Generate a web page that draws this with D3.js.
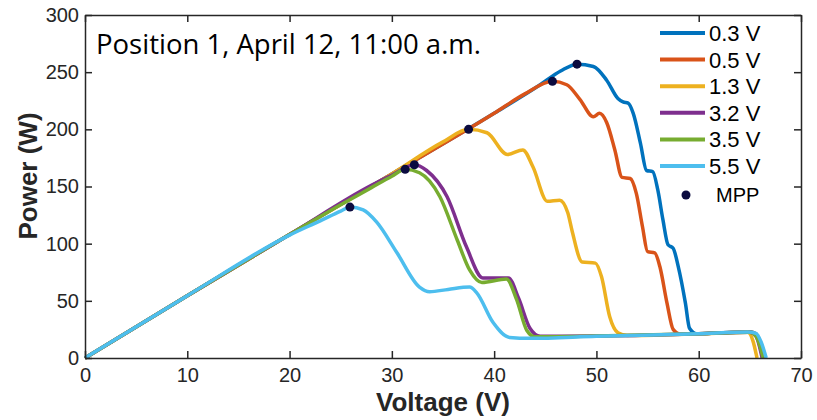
<!DOCTYPE html>
<html>
<head>
<meta charset="utf-8">
<script src="https://cdn.jsdelivr.net/npm/d3@7"></script>
<style>
  body { margin: 0; background: #fff; }
  svg { display: block; }
</style>
</head>
<body>
<svg id="chart"></svg>
<script>
// ---- data
var labels = ['0.3 V', '0.5 V', '1.3 V', '3.2 V', '3.5 V', '5.5 V']
var colors = ['#0072BD', '#D95319', '#EDB120', '#7E2F8E', '#77AC30', '#4DBEEE']

var v03 = [0, 10, 20, 30, 40, 44.5, 46.5, 48.1, 49.7, 51, 52.1, 52.6, 53.1, 53.6, 54.3, 54.9, 55.5, 56, 56.5, 57, 57.5, 58, 58.7, 59.1, 59.8, 62, 65, 65.6, 66, 66.4]
var p03 = [0, 54.5, 108, 161, 214, 239, 251, 257, 255, 243, 227, 224, 223, 214, 188, 164, 163, 147, 121, 99, 96, 80, 48, 26, 21.2, 22, 23, 21, 12, 0]

var v05 = [0, 10, 20, 30, 40, 43, 45.7, 47.1, 48.4, 49.7, 50.3, 51, 51.8, 52.5, 53.3, 53.9, 54.5, 55, 55.7, 56.2, 56.9, 57.5, 58.2, 62, 65, 65.6, 66, 66.4]
var p05 = [0, 54.5, 108, 161, 214, 231, 242, 239, 226, 211, 214, 206, 182, 158, 157, 144, 115, 93, 92, 80, 48, 25, 20.8, 22, 23, 21, 12, 0]

var v13 = [0, 10, 20, 30, 35, 37.5, 39.3, 41.3, 42.8, 43.8, 45.2, 46.4, 47.2, 47.6, 48.6, 49.9, 50.5, 51.3, 52.1, 53, 60, 64.8, 65.3, 65.7]
var p13 = [0, 54.5, 108, 161, 189, 200, 197, 178, 182, 167, 137, 138, 127, 112, 84, 83, 71, 36, 22, 19.6, 21.2, 22.5, 15, 0]

var v32 = [0, 10, 20, 28, 30, 32.2, 33.4, 35.4, 37.3, 38.9, 41.4, 42.4, 43.5, 44.5, 50, 60, 65, 65.6, 66.2]
var p32 = [0, 54.5, 108, 151, 160, 169, 164, 141, 97, 70, 70, 52, 26, 19, 19.2, 21.2, 22.6, 19, 0]

var v35 = [0, 10, 20, 25, 28, 30, 31.3, 32.7, 34.7, 36.4, 37.6, 38.8, 41.2, 42.2, 43.2, 44, 50, 60, 65, 65.6, 66.3]
var p35 = [0, 54.5, 108, 134, 149, 159, 165, 162, 141, 103, 77, 66, 69, 51, 24, 18.5, 19.2, 21.2, 22.6, 19, 0]

var v55 = [0, 10, 20, 23, 25, 25.9, 27.2, 28.5, 30.5, 32.7, 33.7, 35.5, 37.6, 38.3, 39.9, 41.5, 43.5, 50, 60, 64.8, 65.6, 66.1, 66.6]
var p55 = [0, 54.5, 107.5, 120, 128.5, 132, 129.5, 119, 92, 62, 58, 60, 62, 57, 31, 18, 17.2, 19, 21.2, 22.7, 21.5, 14, 0]

var mppV = [48.1, 45.7, 37.5, 32.2, 31.3, 25.9]
var mppP = [257, 242, 200, 169, 165, 132]

var xTicks = [0, 10, 20, 30, 40, 50, 60, 70]
var yTicks = [0, 50, 100, 150, 200, 250, 300]
var title = 'Position 1, April 12, 11:00 a.m.'

var seriesV = [v03, v05, v13, v32, v35, v55]
var seriesP = [p03, p05, p13, p32, p35, p55]

// ---- layout
var width = 817
var height = 420
var margin = { top: 15, right: 16, bottom: 62, left: 85 }
var axisColor = '#262626'
var tickFont = '"Liberation Sans", Arial, sans-serif'
var textFont = '"Open Sans", "Noto Sans", sans-serif'

var svg = d3.select('#chart').attr('width', width).attr('height', height)

var x = d3.scaleLinear().domain([0, 70]).range([margin.left, width - margin.right])
var y = d3.scaleLinear().domain([0, 300]).range([height - margin.bottom, margin.top])

var line = d3
  .line()
  .x(d => x(d[0]))
  .y(d => y(d[1]))
  .curve(d3.curveMonotoneX)

// curves, drawn in order so 5.5 V ends on top
seriesV.forEach(function(vs, i) {
  var pts = vs.map((v, j) => [v, seriesP[i][j]])
  svg
    .append('path')
    .datum(pts)
    .attr('fill', 'none')
    .attr('stroke', colors[i])
    .attr('stroke-width', 3.5)
    .attr('stroke-linejoin', 'round')
    .attr('d', line)
})

// MPP markers
svg
  .append('g')
  .selectAll('circle')
  .data(mppV)
  .enter()
  .append('circle')
  .attr('cx', d => x(d))
  .attr('cy', (d, i) => y(mppP[i]))
  .attr('r', 4.5)
  .attr('fill', '#0b0b3f')

// axes box with inward ticks
var xAxis = g =>
  g
    .attr('transform', `translate(0,${y(0)})`)
    .call(d3.axisBottom(x).tickValues(xTicks).tickSize(-7).tickPadding(10).tickSizeOuter(0))

var yAxis = g =>
  g
    .attr('transform', `translate(${x(0)},0)`)
    .call(d3.axisLeft(y).tickValues(yTicks).tickSize(-7).tickPadding(6).tickSizeOuter(0))

var xTop = g =>
  g
    .attr('transform', `translate(0,${y(300)})`)
    .call(d3.axisTop(x).tickValues(xTicks).tickSize(-7).tickFormat('').tickSizeOuter(0))

var yRight = g =>
  g
    .attr('transform', `translate(${x(70)},0)`)
    .call(d3.axisRight(y).tickValues(yTicks).tickSize(-7).tickFormat('').tickSizeOuter(0))

;[xAxis, yAxis, xTop, yRight].forEach(function(ax) {
  svg
    .append('g')
    .call(ax)
    .call(g => g.selectAll('path, line').attr('stroke', axisColor).attr('stroke-width', 1.5))
    .call(g =>
      g
        .selectAll('text')
        .attr('fill', axisColor)
        .attr('font-family', tickFont)
        .attr('font-size', 20)
    )
})

// axis titles
svg
  .append('text')
  .attr('x', (x(0) + x(70)) / 2)
  .attr('y', 411)
  .attr('text-anchor', 'middle')
  .attr('font-family', tickFont)
  .attr('font-weight', 'bold')
  .attr('font-size', 26)
  .attr('fill', axisColor)
  .text('Voltage (V)')

svg
  .append('text')
  .attr('transform', 'translate(37,176) rotate(-90)')
  .attr('text-anchor', 'middle')
  .attr('font-family', tickFont)
  .attr('font-weight', 'bold')
  .attr('font-size', 26)
  .attr('fill', axisColor)
  .text('Power (W)')

// title inside plot
svg
  .append('text')
  .attr('x', 96)
  .attr('y', 54)
  .attr('font-family', textFont)
  .attr('font-size', 27.5)
  .attr('fill', '#000')
  .text(title)

// legend
var legend = svg.append('g')
labels.forEach(function(lab, i) {
  var ly = 33 + i * 26.6
  legend
    .append('line')
    .attr('x1', 660)
    .attr('x2', 705)
    .attr('y1', ly)
    .attr('y2', ly)
    .attr('stroke', colors[i])
    .attr('stroke-width', 4)
  legend
    .append('text')
    .attr('x', 709)
    .attr('y', ly + 8)
    .attr('font-family', tickFont)
    .attr('font-size', 22)
    .attr('fill', '#000')
    .text(lab)
})
legend
  .append('circle')
  .attr('cx', 686)
  .attr('cy', 195)
  .attr('r', 4.5)
  .attr('fill', '#0b0b3f')
legend
  .append('text')
  .attr('x', 716)
  .attr('y', 202)
  .attr('font-family', tickFont)
  .attr('font-size', 20)
  .attr('fill', '#000')
  .text('MPP')
</script>
</body>
</html>
